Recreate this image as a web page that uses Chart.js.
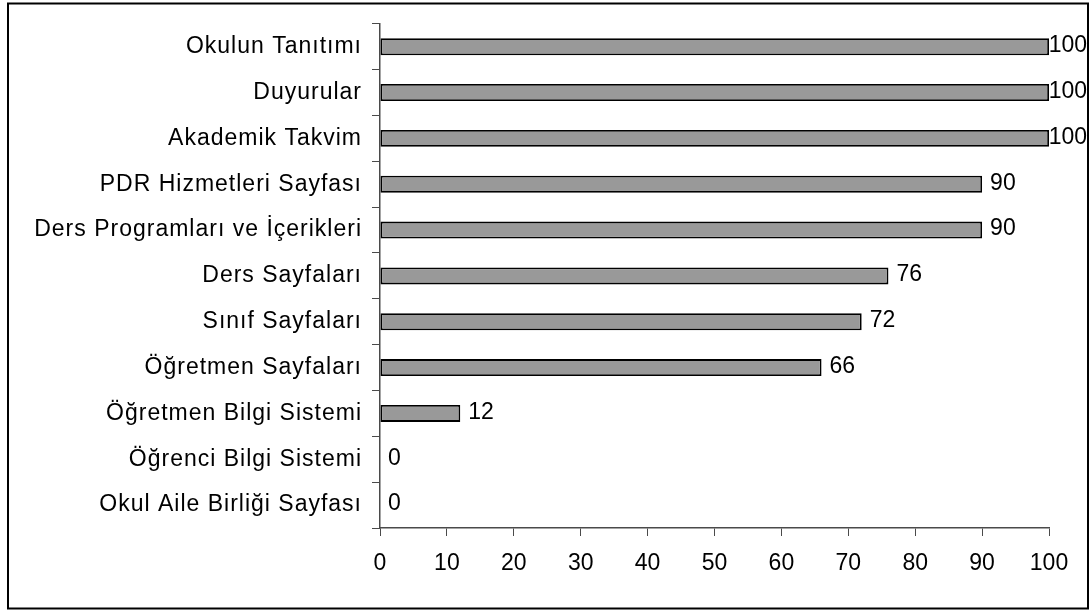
<!DOCTYPE html>
<html>
<head>
<meta charset="utf-8">
<script src="https://cdn.jsdelivr.net/npm/chart.js@4"></script>
<style>
  body { margin: 0; background: #fff; }
  canvas { display: block; }
</style>
</head>
<body>
<canvas id="chart" width="1091" height="610"></canvas>
<script>
const categories = [
    'Okulun Tanıtımı',
    'Duyurular',
    'Akademik Takvim',
    'PDR Hizmetleri Sayfası',
    'Ders Programları ve İçerikleri',
    'Ders Sayfaları',
    'Sınıf Sayfaları',
    'Öğretmen Sayfaları',
    'Öğretmen Bilgi Sistemi',
    'Öğrenci Bilgi Sistemi',
    'Okul Aile Birliği Sayfası'
];
const values = [100, 100, 100, 90, 90, 76, 72, 66, 12, 0, 0];
const xTicks = [0, 10, 20, 30, 40, 50, 60, 70, 80, 90, 100];

const FONT = '"Liberation Sans", Arial, sans-serif';

// the category names in the original are spaced a bit wider
const wideLabels = {
    id: 'wideLabels',
    afterLayout(chart) {
        const y = chart.scales.y;
        if (y._wide) return;
        const orig = y.drawLabels.bind(y);
        y.drawLabels = function (area) {
            this.ctx.save();
            this.ctx.letterSpacing = '1px';
            orig(area);
            this.ctx.restore();
        };
        y._wide = true;
    }
};

// value labels next to each bar
const valueLabels = {
    id: 'valueLabels',
    afterDatasetsDraw(chart) {
        const ctx = chart.ctx;
        const meta = chart.getDatasetMeta(0);
        ctx.save();
        ctx.font = '23px ' + FONT;
        ctx.fillStyle = '#000';
        ctx.textAlign = 'left';
        ctx.textBaseline = 'middle';
        meta.data.forEach((bar, i) => {
            const txt = String(values[i]);
            const w = ctx.measureText(txt).width;
            let x = bar.x + 8;
            if (x + w > 1087) x = 1087 - w;
            ctx.fillText(txt, x, bar.y - 1);
        });
        ctx.restore();
    }
};

// frame around the whole chart
const outerFrame = {
    id: 'outerFrame',
    afterDraw(chart) {
        const ctx = chart.ctx;
        ctx.save();
        ctx.strokeStyle = '#000';
        ctx.lineWidth = 2;
        ctx.strokeRect(8, 3.5, 1080, 605);
        ctx.restore();
    }
};

new Chart(document.getElementById('chart'), {
    type: 'bar',
    data: {
        labels: categories,
        datasets: [{
            data: values,
            backgroundColor: '#999999',
            borderColor: '#000000',
            borderWidth: 1.8,
            borderSkipped: false,
            barPercentage: 0.37,
            categoryPercentage: 1
        }]
    },
    options: {
        indexAxis: 'y',
        responsive: false,
        animation: false,
        devicePixelRatio: 1,
        layout: { padding: { top: 23, right: 42, left: 0, bottom: 0 } },
        plugins: {
            legend: { display: false },
            tooltip: { enabled: false }
        },
        scales: {
            x: {
                min: 0,
                max: 100,
                afterFit: s => { s.height = 82; },
                afterBuildTicks: s => { s.ticks = xTicks.map(v => ({ value: v })); },
                grid: {
                    drawOnChartArea: false,
                    tickLength: 8,
                    color: '#4a4a4a'
                },
                border: { color: '#4a4a4a', width: 1.5 },
                ticks: {
                    color: '#000',
                    font: { family: FONT, size: 23 },
                    padding: 14,
                    maxRotation: 0
                }
            },
            y: {
                afterFit: s => { s.width = 380; },
                grid: {
                    offset: true,
                    drawOnChartArea: false,
                    tickLength: 8,
                    color: '#4a4a4a'
                },
                border: { color: '#4a4a4a', width: 1.5 },
                ticks: {
                    color: '#000',
                    font: { family: FONT, size: 23 },
                    padding: 10,
                    autoSkip: false
                }
            }
        }
    },
    plugins: [wideLabels, valueLabels, outerFrame]
});
</script>
</body>
</html>
